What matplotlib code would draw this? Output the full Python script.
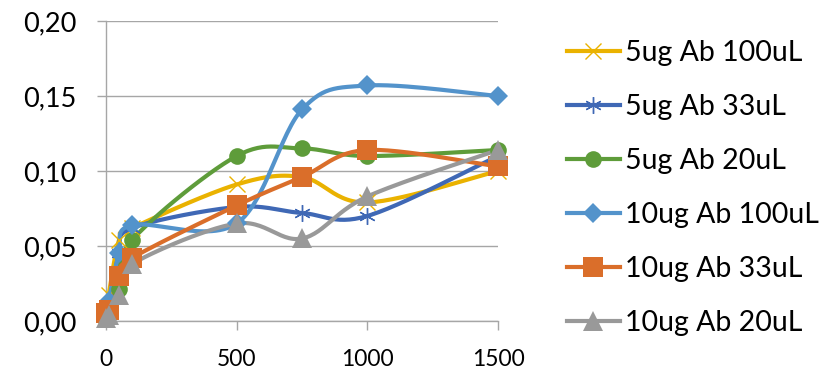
import numpy as np
import matplotlib
matplotlib.use('Agg')
import matplotlib.pyplot as plt
from matplotlib.ticker import FuncFormatter

# concentration steps
x = [0, 10, 50, 100, 500, 750, 1000, 1500]

# absorbance per condition
ab5_100 = [0.003, 0.017, 0.054, 0.062, 0.091, 0.096, 0.079, 0.100]
ab5_33 = [0.003, 0.010, 0.045, 0.062, 0.076, 0.072, 0.070, 0.110]
ab5_20 = [0.003, 0.008, 0.021, 0.054, 0.110, 0.115, 0.110, 0.114]
ab10_100 = [0.003, 0.013, 0.045, 0.064, 0.065, 0.141, 0.157, 0.150]
ab10_33 = [0.005, 0.007, 0.030, 0.042, 0.077, 0.096, 0.114, 0.103]
ab10_20 = [0.002, 0.004, 0.017, 0.038, 0.065, 0.055, 0.083, 0.114]

labels = ['5ug Ab 100uL', '5ug Ab 33uL', '5ug Ab 20uL',
          '10ug Ab 100uL', '10ug Ab 33uL', '10ug Ab 20uL']
colors = ['#EAB200', '#3F68B5', '#5E9C3A', '#5393CB', '#DA6E2A', '#999999']
markers = ['x', (6, 2, 0), 'o', 'D', 's', '^']
msizes = [11, 12, 12, 10, 14, 14]


def smooth(xs, ys, n=30):
    # bezier smoothing through the points (catmull-rom style)
    p = np.column_stack([xs, ys]).astype(float)
    p = np.vstack([p[0], p, p[-1]])
    out = []
    t = np.linspace(0, 1, n)[:, None]
    for i in range(1, len(p) - 2):
        p0, p1, p2, p3 = p[i - 1], p[i], p[i + 1], p[i + 2]
        c1 = p1 + (p2 - p0) / 6
        c2 = p2 - (p3 - p1) / 6
        seg = ((1 - t) ** 3) * p1 + 3 * ((1 - t) ** 2) * t * c1 \
            + 3 * (1 - t) * t ** 2 * c2 + t ** 3 * p2
        out.append(seg)
    out = np.vstack(out)
    return out[:, 0], out[:, 1]


plt.rcParams['font.family'] = ['Lato', 'DejaVu Sans']

fig = plt.figure(figsize=(8.32, 3.71), dpi=100)
ax = fig.add_axes([0.1274, 0.1348, 0.4712, 0.8086])

series = [ab5_100, ab5_33, ab5_20, ab10_100, ab10_33, ab10_20]
handles = []
for ys, lab, c, m, ms in zip(series, labels, colors, markers, msizes):
    sx, sy = smooth(x, ys)
    ax.plot(sx, sy, color=c, lw=3.0, clip_on=False, zorder=3,
            solid_capstyle='round')
    thin = m in ('x', (6, 2, 0))
    ax.plot(x, ys, ls='none', marker=m, ms=ms, color=c,
            mec=c, mew=1.0 if thin else 0, clip_on=False, zorder=4)
    h, = ax.plot([], [], color=c, lw=3.0, marker=m, ms=ms, mec=c,
                 mew=1.0 if thin else 0)
    handles.append(h)

ax.set_xlim(0, 1500)
ax.set_ylim(0, 0.20)
ax.set_xticks([0, 500, 1000, 1500])
ax.set_yticks([0, 0.05, 0.10, 0.15, 0.20])
ax.yaxis.set_major_formatter(FuncFormatter(lambda v, _: f'{v:.2f}'.replace('.', ',')))
ax.grid(axis='y', color='#A6A6A6', lw=1.0)
ax.set_axisbelow(True)
for s in ['top', 'right']:
    ax.spines[s].set_visible(False)
for s in ['left', 'bottom']:
    ax.spines[s].set_color('#A6A6A6')
    ax.spines[s].set_linewidth(1.0)
ax.tick_params(axis='both', colors='#A6A6A6', labelcolor='black',
               length=6.5, width=1.0)
ax.tick_params(axis='y', labelsize=19.5, pad=15)
ax.tick_params(axis='x', labelsize=16.5, pad=14)

fig.legend(handles, labels, loc='center left', bbox_to_anchor=(0.6815, 0.493),
           frameon=False, fontsize=20.5, handlelength=1.85, handletextpad=0.18,
           labelspacing=0.98, borderpad=0, borderaxespad=0)

fig.savefig('out.png', dpi=100)
